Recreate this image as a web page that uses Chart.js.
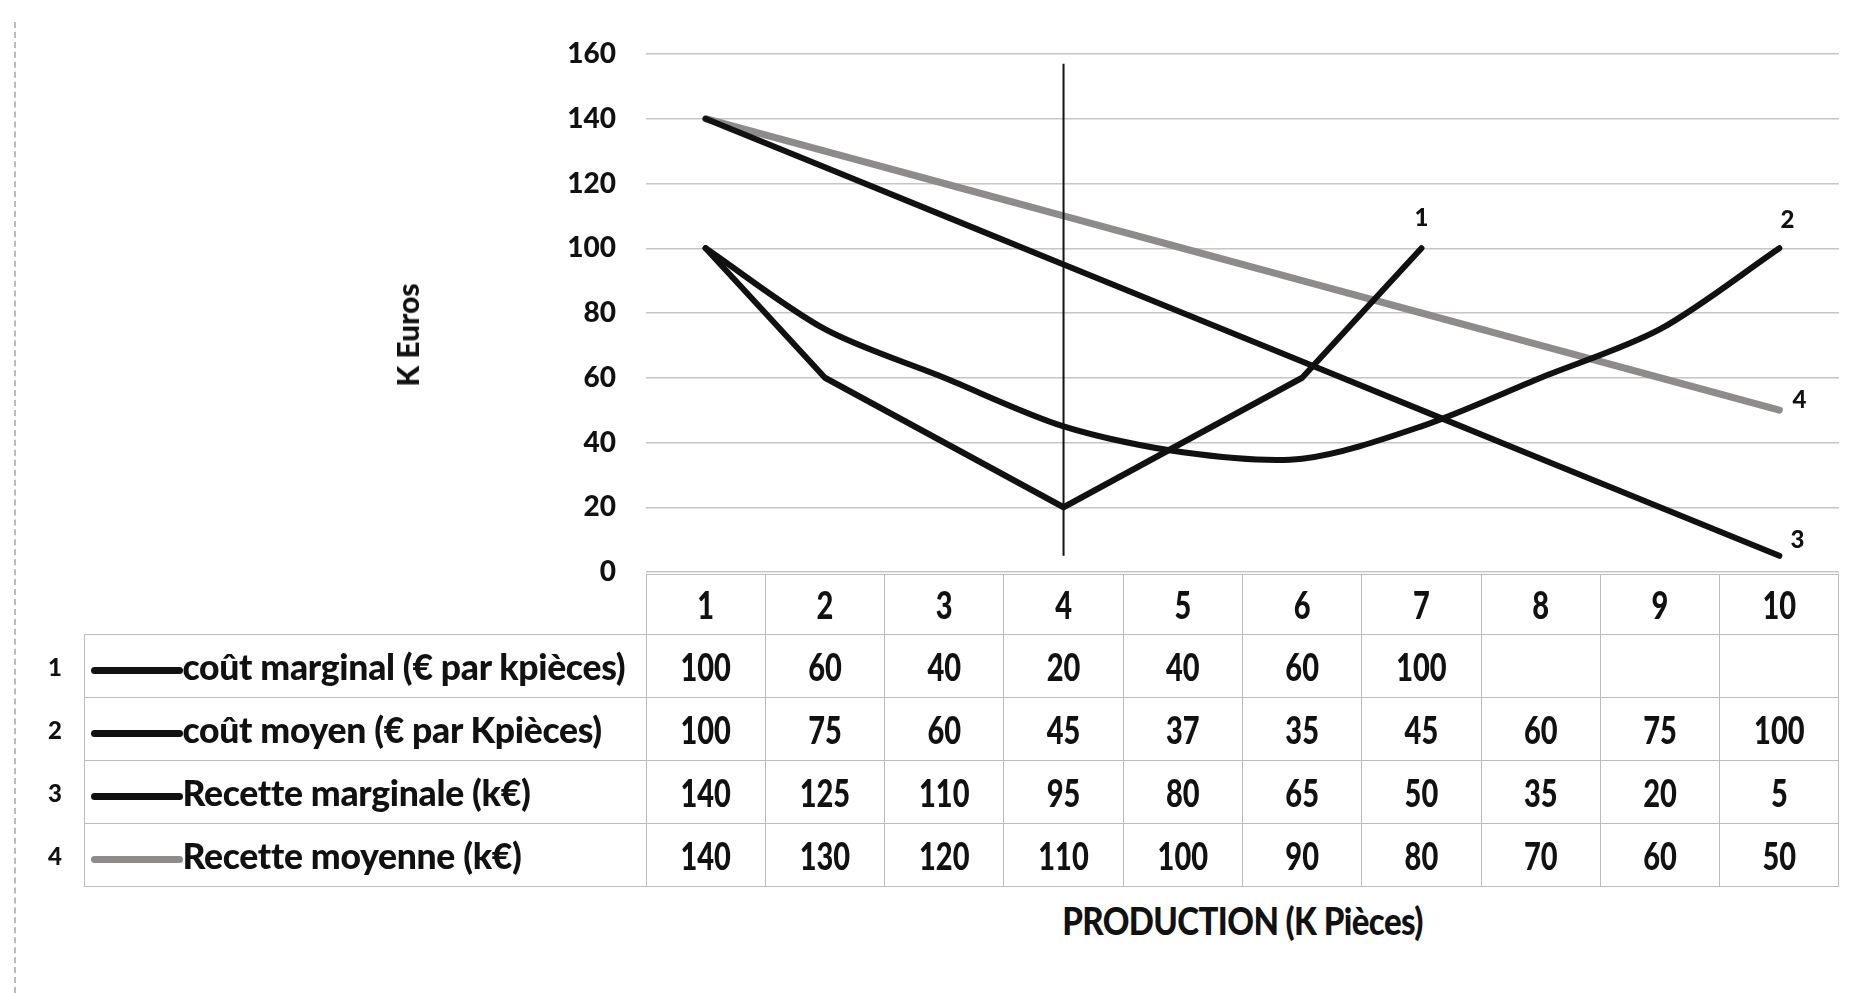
<!DOCTYPE html>
<html>
<head>
<meta charset="utf-8">
<script src="https://cdn.jsdelivr.net/npm/chart.js@4/dist/chart.umd.min.js"></script>
<style>
  body { margin: 0; background: #fff; }
  #wrap { position: relative; width: 1876px; height: 993px; overflow: hidden;
          font-family: Lato, "Open Sans", sans-serif; font-weight: 900; color: #111; }
  #pageEdge { position: absolute; left: 14px; top: 22px; bottom: 0; border-left: 2px dashed #bbb; }
  #chartBox { position: absolute; left: 0; top: 0; width: 1876px; height: 650px; }
  #tbl { position: absolute; border-collapse: collapse; table-layout: fixed; }
  #tbl td { padding: 0; font-size: 29px; text-align: center; white-space: nowrap; overflow: hidden; }
  #tbl td.cell { border: 1.5px solid #bcbcbc; }
  #tbl td.cell span { display: inline-block; transform: scaleY(1.3); }
  #tbl td.num { text-align: left; font-size: 24px; padding-left: 14px; }
  #tbl td.label { text-align: left; padding-left: 6px; border: 1.5px solid #bcbcbc; font-size: 35.5px; letter-spacing: -0.3px; }
  .swatch { display: inline-block; width: 92px; height: 7px; border-radius: 4px; vertical-align: middle; }
  #ytitle { position: absolute; font-size: 30px; white-space: nowrap; transform: translate(-50%, -50%) rotate(-90deg); }
  #xtitle { position: absolute; top: 900px; font-size: 33px; text-align: center; letter-spacing: -0.6px; }
  #xtitle span { display: inline-block; transform: scaleY(1.15); }
</style>
</head>
<body>
<div id="wrap">
  <div id="pageEdge"></div>
  <div id="chartBox"><canvas id="chart" width="1876" height="650"></canvas></div>
  <table id="tbl"></table>
  <div id="ytitle" style="left:407px; top:335px">K Euros</div>
  <div id="xtitle"><span>PRODUCTION (K Pièces)</span></div>
</div>
<script>
const categories = ['1', '2', '3', '4', '5', '6', '7', '8', '9', '10'];
const coutMarginal = [100, 60, 40, 20, 40, 60, 100, null, null, null];
const coutMoyen = [100, 75, 60, 45, 37, 35, 45, 60, 75, 100];
const recetteMarginale = [140, 125, 110, 95, 80, 65, 50, 35, 20, 5];
const recetteMoyenne = [140, 130, 120, 110, 100, 90, 80, 70, 60, 50];
const seriesNames = ['coût marginal (€ par kpièces)', 'coût moyen (€  par Kpièces)', 'Recette marginale (k€)', 'Recette moyenne (k€)'];
const seriesNumbers = ['1', '2', '3', '4'];
const markerCategory = '4';
const markerTop = 157;
const markerBottom = 5;

const FONT = 'Lato, "Open Sans", sans-serif';
const seriesValues = [coutMarginal, coutMoyen, recetteMarginale, recetteMoyenne];
const seriesColors = ['#111111', '#111111', '#111111', '#8e8b8b'];
const labelOffsets = [[0, -30], [8, -28], [18, -16], [20, -10]];

// vertical marker line at production = 4
const markerLine = {
    id: 'markerLine',
    afterDatasetsDraw(chart) {
        const ctx = chart.ctx;
        const x = chart.scales.x.getPixelForValue(categories.indexOf(markerCategory));
        ctx.save();
        ctx.strokeStyle = '#111';
        ctx.lineWidth = 2;
        ctx.beginPath();
        ctx.moveTo(x, chart.scales.y.getPixelForValue(markerTop));
        ctx.lineTo(x, chart.scales.y.getPixelForValue(markerBottom));
        ctx.stroke();
        ctx.restore();
    }
};

// series numbers at the end of each curve
const endLabels = {
    id: 'endLabels',
    afterDatasetsDraw(chart) {
        const ctx = chart.ctx;
        ctx.save();
        ctx.fillStyle = '#111';
        ctx.font = '900 24px ' + FONT;
        ctx.textAlign = 'center';
        ctx.textBaseline = 'middle';
        chart.data.datasets.forEach((ds, i) => {
            let last = ds.data.length - 1;
            while (last > 0 && ds.data[last] == null) last--;
            const pt = chart.getDatasetMeta(i).data[last];
            ctx.fillText(seriesNumbers[i], pt.x + labelOffsets[i][0], pt.y + labelOffsets[i][1]);
        });
        ctx.restore();
    }
};

const padding = { left: 380, right: 37, top: 40, bottom: 60 };

const chart = new Chart(document.getElementById('chart'), {
    type: 'line',
    data: {
        labels: categories,
        datasets: seriesValues.map((vals, i) => ({
            label: seriesNames[i],
            data: vals,
            borderColor: seriesColors[i],
            borderWidth: i === 3 ? 7 : 6,
            borderCapStyle: 'round',
            borderJoinStyle: 'round',
            pointRadius: 0,
            tension: i === 1 ? 0.3 : 0,
            spanGaps: false
        }))
    },
    options: {
        responsive: false,
        animation: false,
        layout: { padding: padding },
        plugins: {
            legend: { display: false },
            tooltip: { enabled: false }
        },
        scales: {
            x: {
                display: false,
                offset: true
            },
            y: {
                min: 0,
                max: 160,
                ticks: {
                    stepSize: 20,
                    padding: 30,
                    color: '#111',
                    font: { family: FONT, size: 28, weight: '900' }
                },
                grid: { color: '#c6c6c6', lineWidth: 1.5, drawTicks: false },
                border: { display: false },
                afterFit(scale) { scale.width = 266; }
            }
        }
    },
    plugins: [markerLine, endLabels]
});

// pin the plot area to where it sits in the original
const wantTop = 54, wantBottom = 572;
for (let k = 0; k < 3; k++) {
    const a = chart.chartArea;
    padding.top += wantTop - a.top;
    padding.bottom += a.bottom - wantBottom;
    chart.options.layout.padding = Object.assign({}, padding);
    chart.update();
}

// data table under the plot, aligned with the category bands
const area = chart.chartArea;
const colW = (area.right - area.left) / categories.length;
const tbl = document.getElementById('tbl');
const numW = 50;
const labelW = area.left - 84;
tbl.style.left = (84 - numW) + 'px';
tbl.style.top = (area.bottom + 2) + 'px';
tbl.style.width = (numW + labelW + colW * categories.length) + 'px';

let html = '<colgroup><col style="width:' + numW + 'px"><col style="width:' + labelW + 'px">';
categories.forEach(() => { html += '<col style="width:' + colW + 'px">'; });
html += '</colgroup>';
html += '<tr style="height:60px"><td></td><td></td>';
categories.forEach(c => { html += '<td class="cell"><span>' + c + '</span></td>'; });
html += '</tr>';
seriesValues.forEach((vals, i) => {
    html += '<tr style="height:63px"><td class="num">' + seriesNumbers[i] + '</td>';
    html += '<td class="label"><span class="swatch" style="background:' + seriesColors[i] + '"></span>' + seriesNames[i] + '</td>';
    vals.forEach(v => { html += '<td class="cell"><span>' + (v == null ? '' : v) + '</span></td>'; });
    html += '</tr>';
});
tbl.innerHTML = html;

const xtitle = document.getElementById('xtitle');
xtitle.style.left = area.left + 'px';
xtitle.style.width = (area.right - area.left) + 'px';
</script>
</body>
</html>
